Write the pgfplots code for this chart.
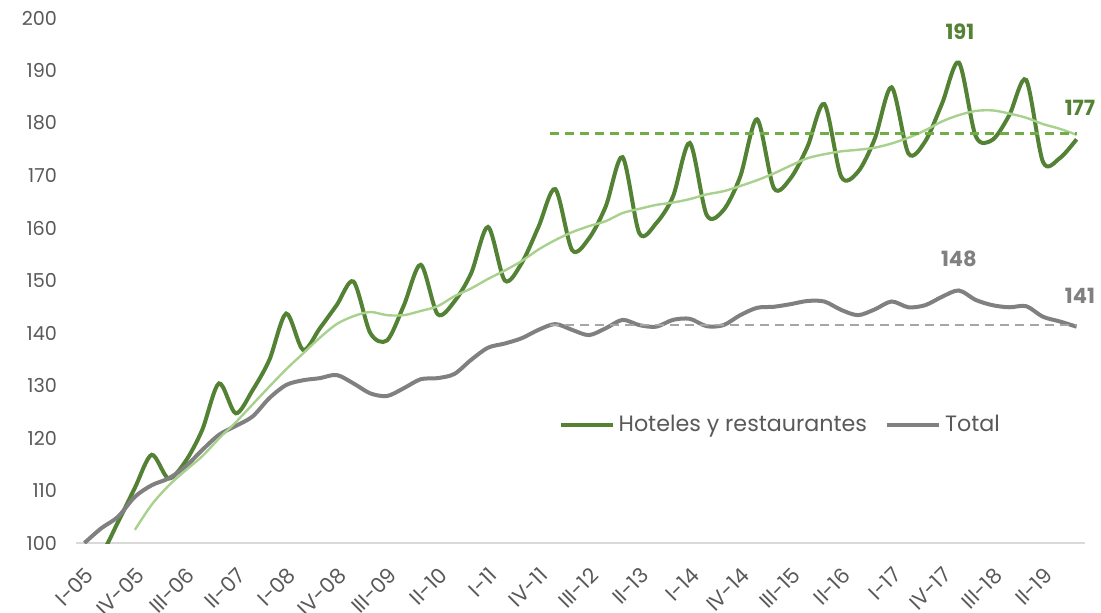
\documentclass[border=0pt]{standalone}
\usepackage{pgfplots}
\usepackage{pgfplotstable}
\pgfplotsset{compat=1.18}
\usepackage{fontspec}
\setmainfont{Poppins}
\definecolor{dgreen}{HTML}{548235}
\definecolor{lgreen}{HTML}{A9D18E}
\definecolor{mgreen}{HTML}{70AD47}
\definecolor{lgray}{HTML}{808080}
\definecolor{dashgray}{HTML}{A6A6A6}
\definecolor{axisgray}{HTML}{D9D9D9}
\definecolor{txtgray}{HTML}{595959}

\pgfplotstableread{
i hr tot
0 97.5 100.0
1 98.0 102.8
2 104.0 105.0
3 110.5 108.8
4 116.8 111.0
5 112.3 112.3
6 115.5 114.5
7 121.5 117.7
8 130.4 120.6
9 124.7 122.3
10 129.1 124.1
11 134.9 127.6
12 143.7 130.1
13 136.8 131.0
14 140.9 131.4
15 145.3 132.0
16 149.8 130.4
17 140.0 128.5
18 138.6 128.0
19 145.3 129.5
20 153.0 131.2
21 143.6 131.4
22 146.0 132.2
23 151.4 134.9
24 160.2 137.2
25 150.0 138.0
26 153.3 139.0
27 160.2 140.6
28 167.4 141.7
29 155.8 140.6
30 158.0 139.6
31 164.1 140.9
32 173.5 142.5
33 159.0 141.5
34 160.9 141.2
35 166.0 142.5
36 176.2 142.7
37 162.5 141.3
38 163.4 141.5
39 169.8 143.4
40 180.7 144.8
41 167.6 145.0
42 169.5 145.5
43 175.5 146.1
44 183.6 146.0
45 169.8 144.4
46 170.7 143.4
47 177.0 144.5
48 186.8 146.0
49 174.2 144.9
50 176.5 145.3
51 183.7 146.9
52 191.5 148.1
53 177.5 146.3
54 176.8 145.3
55 181.5 144.9
56 188.2 145.1
57 172.6 143.1
58 173.3 142.2
59 176.9 141.2
}\datatable

\pgfplotstableread{
i ma
3 102.5
4 107.3
5 110.9
6 113.8
7 116.5
8 119.9
9 123.0
10 126.4
11 129.8
12 133.1
13 136.1
14 139.1
15 141.7
16 143.2
17 144.0
18 143.4
19 143.4
20 144.2
21 145.1
22 147.0
23 148.5
24 150.3
25 151.9
26 153.7
27 155.9
28 157.7
29 159.2
30 160.35
31 161.3
32 162.85
33 163.65
34 164.4
35 164.85
36 165.5
37 166.4
38 167.0
39 168.0
40 169.1
41 170.4
42 171.9
43 173.3
44 174.05
45 174.6
46 174.9
47 175.3
48 176.1
49 177.2
50 178.6
51 180.3
52 181.5
53 182.3
54 182.4
55 181.8
56 181.0
57 179.8
58 178.9
59 177.75
}\matable

\begin{document}
\begin{tikzpicture}[x=1pt,y=1pt]
\useasboundingbox (-38,-34.5) rectangle (512.5,271.5);
\begin{axis}[
  at={(0,0)}, anchor=south west,
  scale only axis, width=504.5pt, height=262.5pt,
  xmin=-0.5, xmax=59.5, ymin=100, ymax=200,
  axis x line*=bottom, axis y line*=left,
  x axis line style={color=axisgray, line width=1pt, -},
  y axis line style={draw=none},
  tick style={draw=none}, major tick length=0pt,
  xtick={0,3,...,57},
  xticklabels={I-05,IV-05,III-06,II-07,I-08,IV-08,III-09,II-10,I-11,IV-11,III-12,II-13,I-14,IV-14,III-15,II-16,I-17,IV-17,III-18,II-19},
  xticklabel style={xshift=0pt, yshift=-6.5pt, rotate=45, anchor=north east, font=\fontsize{10.5}{12}\selectfont, text=txtgray},
  ytick={100,110,...,200},
  yticklabel style={font=\fontsize{9.6}{11}\selectfont, text=txtgray, xshift=-6pt},
  /pgf/number format/assume math mode=true,
  clip mode=individual,
  legend style={at={(0.472,0.225)}, anchor=west, draw=none, fill=none,
    font=\fontsize{11.1}{13}\selectfont, text=txtgray,
    /tikz/every even column/.append style={column sep=7pt}},
  legend columns=2,
  legend image code/.code={\draw[#1] (0pt,0pt) -- (26pt,0pt);},
]
\addplot[dgreen, line width=2pt, smooth] table[x=i, y=hr] {\datatable};
\addlegendentry{Hoteles y restaurantes}
\addplot[lgray, line width=2pt, smooth] table[x=i, y=tot] {\datatable};
\addlegendentry{Total}
\addplot[lgreen, line width=1.2pt, smooth, forget plot] table[x=i, y=ma] {\matable};
\addplot[mgreen, line width=1.2pt, dash pattern=on 4.5pt off 3pt, forget plot] coordinates {(27.7,178) (59,178)};
\addplot[dashgray, line width=1.2pt, dash pattern=on 4.5pt off 3pt, forget plot] coordinates {(27.7,141.5) (59,141.5)};
\node[font=\bfseries\fontsize{10.5}{12}\selectfont, text=dgreen] at (axis cs:52.06,197.3) {191};
\node[font=\bfseries\fontsize{10.5}{12}\selectfont, text=dgreen] at (axis cs:59.2,182.9) {177};
\node[font=\bfseries\fontsize{10.5}{12}\selectfont, text=lgray] at (axis cs:52.0,154.2) {148};
\node[font=\bfseries\fontsize{10.5}{12}\selectfont, text=lgray] at (axis cs:59.2,147.1) {141};
\end{axis}
\end{tikzpicture}
\end{document}
